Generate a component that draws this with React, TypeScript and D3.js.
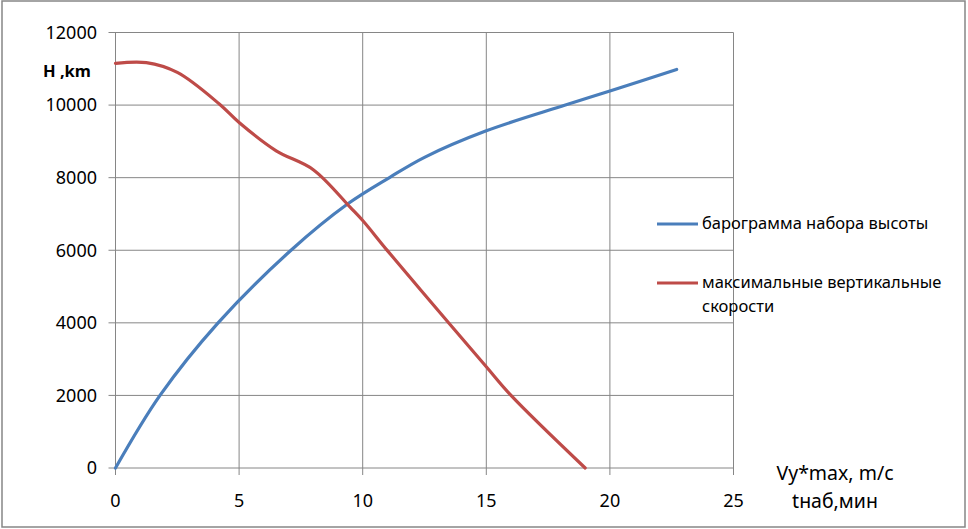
import React from 'react';
import * as d3 from 'd3';

// barogram (climb time, min -> altitude, m)
const climbTime = [0, 1.8, 4.15, 7.1, 9.4, 11.1, 12.5, 15, 18.2, 20, 22.7];
const climbAlt = [0, 2000, 4000, 6000, 7280, 8010, 8560, 9290, 10000, 10390, 10980];

// max vertical speed (Vy*max, m/s -> altitude, m)
const vyMax = [0, 1.25, 2.5, 4.2, 5, 6.5, 8.0, 9.5, 10, 11, 13.5, 15, 16, 19];
const vyAlt = [11150, 11170, 10900, 10030, 9520, 8740, 8220, 7180, 6820, 5990, 3980, 2790, 2000, 0];

const xTicks = [0, 5, 10, 15, 20, 25];
const yTicks = [0, 2000, 4000, 6000, 8000, 10000, 12000];

const seriesNames = ['барограмма набора высоты', 'максимальные вертикальные', 'скорости'];

const W = 968;
const H = 529;
const gridColor = '#868686';
const blue = '#4A7EBB';
const red = '#BE4B48';
const font = '"Noto Sans", "Open Sans", sans-serif';

export default function App() {
  const x = d3.scaleLinear().domain([0, 25]).range([115.5, 733.5]);
  const y = d3.scaleLinear().domain([0, 12000]).range([468, 32.5]);

  const line = d3.line<[number, number]>()
    .x(d => x(d[0]))
    .y(d => y(d[1]))
    .curve(d3.curveCatmullRom.alpha(0.5));

  const blueData = climbTime.map((t, i) => [t, climbAlt[i]] as [number, number]);
  const redData = vyMax.map((v, i) => [v, vyAlt[i]] as [number, number]);

  return (
    <div style={{ position: 'fixed', left: 0, top: 0 }}>
      <svg width={W} height={H} style={{ display: 'block', background: '#fff', fontFamily: font }}>
        <rect x={2} y={1} width={963} height={526} fill="#fff" stroke={gridColor} strokeWidth={1.5} />

        {/* horizontal gridlines with outer ticks */}
        {yTicks.map(v => (
          <line key={'h' + v} x1={x(0) - 7} x2={x(25)} y1={y(v)} y2={y(v)} stroke={gridColor} strokeWidth={1} />
        ))}
        {/* vertical gridlines with outer ticks */}
        {xTicks.map(v => (
          <line key={'v' + v} x1={x(v)} x2={x(v)} y1={y(12000)} y2={y(0) + 7} stroke={gridColor} strokeWidth={1} />
        ))}

        {yTicks.map(v => (
          <text key={'yl' + v} x={97} y={y(v)} dy="0.35em" textAnchor="end" fontSize={18} fill="#000">{v}</text>
        ))}
        {xTicks.map(v => (
          <text key={'xl' + v} x={x(v)} y={507} textAnchor="middle" fontSize={18} fill="#000">{v}</text>
        ))}

        <text x={43} y={77} fontSize={16.5} fontWeight="bold" fill="#000">H ,km</text>
        <text x={835} y={480} textAnchor="middle" fontSize={19.5} fill="#000">Vy*max, m/c</text>
        <text x={835} y={508} textAnchor="middle" fontSize={19.5} fill="#000">tнаб,мин</text>

        <path d={line(blueData) || ''} fill="none" stroke={blue} strokeWidth={3.2} strokeLinecap="round" />
        <path d={line(redData) || ''} fill="none" stroke={red} strokeWidth={3.2} strokeLinecap="round" />

        {/* legend */}
        <line x1={657} x2={698} y1={224} y2={224} stroke={blue} strokeWidth={3.2} />
        <text x={702} y={229} fontSize={16.5} fill="#000">{seriesNames[0]}</text>
        <line x1={657} x2={698} y1={283} y2={283} stroke={red} strokeWidth={3.2} />
        <text x={702} y={288} fontSize={16.5} fill="#000">{seriesNames[1]}</text>
        <text x={702} y={312} fontSize={16.5} fill="#000">{seriesNames[2]}</text>
      </svg>
    </div>
  );
}
